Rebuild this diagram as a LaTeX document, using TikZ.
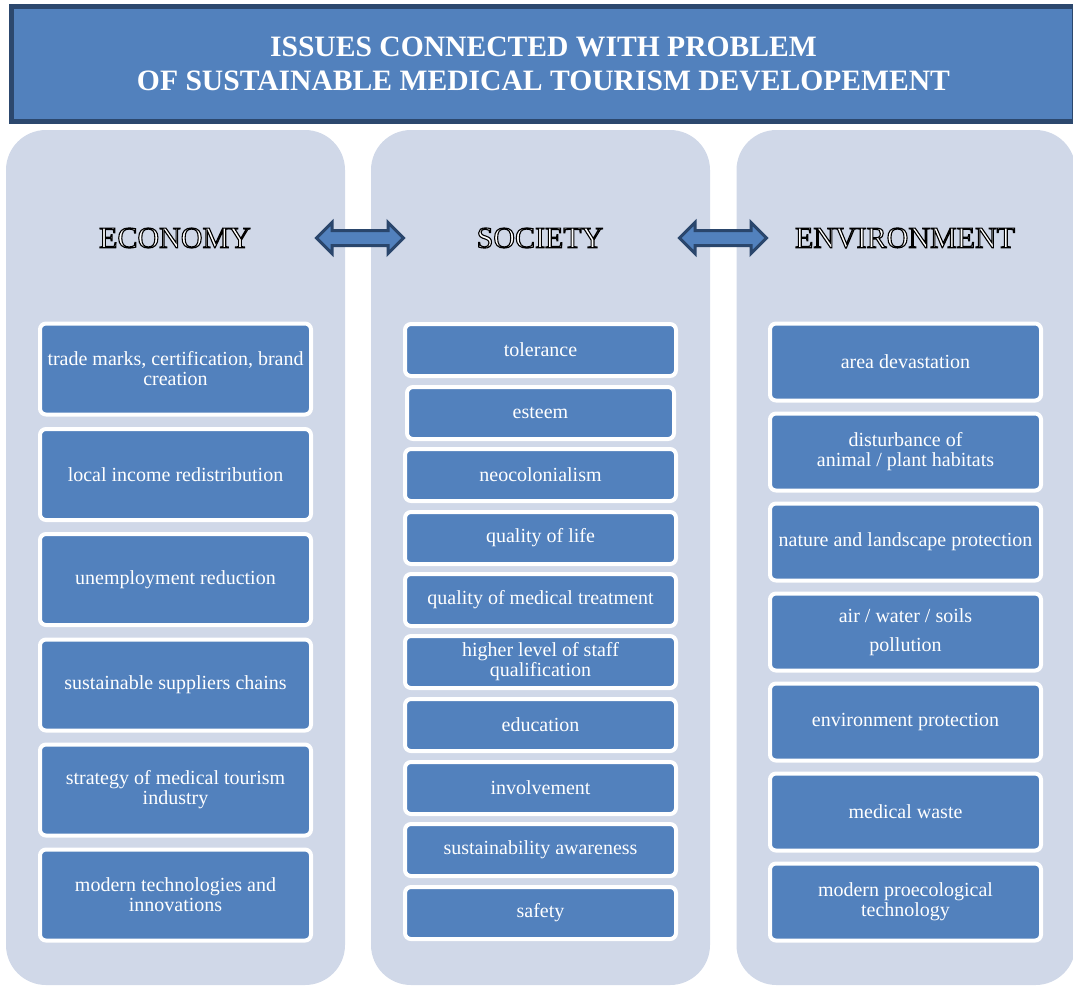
\documentclass[tikz,border=0pt]{standalone}
\usepackage{fontspec}
\setmainfont{Liberation Serif}
\usetikzlibrary{shapes.arrows}
\definecolor{boxblue}{RGB}{82,129,189}
\definecolor{panelgray}{RGB}{208,216,232}
\definecolor{titleedge}{RGB}{44,72,110}
\definecolor{arrowdark}{RGB}{42,70,108}
% outlined (engraved) capitals for the three headings
\newcommand{\engr}[1]{\special{pdf:literal direct 2 Tr 1.1 w 0 0 0 RG}#1\special{pdf:literal direct 0 Tr}}

\begin{document}
\begin{tikzpicture}[x=1pt,y=-1pt,
 titlebox/.style={rectangle,fill=boxblue,draw=titleedge,line width=5pt,minimum width=1063pt,minimum height=115pt,inner sep=0pt},
 titletext/.style={text=white,font=\fontsize{29.6}{34}\selectfont\bfseries,align=center},
 panel/.style={rectangle,rounded corners=40pt,fill=panelgray,draw=none,minimum width=339pt,minimum height=855pt,inner sep=0pt},
 head/.style={font=\fontsize{30}{30}\selectfont,text=white},
 item/.style={rectangle,rounded corners=6pt,fill=boxblue,draw=white,line width=4pt,text=white,font=\fontsize{20}{20}\selectfont,align=center,minimum width=271pt,inner sep=2pt},
 econitem/.style={item,minimum height=91pt},
 socitem/.style={item,minimum height=52pt},
 envitem/.style={item,minimum height=77pt},
 link/.style={double arrow,double arrow head extend=8pt,fill=boxblue,draw=arrowdark,line width=3pt,minimum width=28pt,minimum height=87pt,inner sep=6pt}]
\useasboundingbox (0,0) rectangle (1073,986);

\node[titlebox] (title) at (543.25,64.25) {};
\node[titletext] (titletxt) at (543.5,64) {ISSUES CONNECTED WITH PROBLEM\\OF SUSTAINABLE MEDICAL TOURISM DEVELOPEMENT};

\node[panel] (econpanel) at (175.5,557.5) {};
\node[panel] (socpanel) at (540.5,557.5) {};
\node[panel] (envpanel) at (906,557.5) {};

\node[head] (econ) at (175,238) {\engr{ECONOMY}};
\node[head] (soc) at (540,238) {\engr{SOCIETY}};
\node[head] (env) at (905,238) {\engr{ENVIRONMENT}};

\node[link] (econsoc) at (360,238) {};
\node[link] (socenv) at (723,238) {};

% economy
\node[econitem] (e1) at (175.5,369) {trade marks, certification, brand\\creation};
\node[econitem] (e2) at (175.5,474.5) {local income redistribution};
\node[econitem] (e3) at (175.5,579.5) {unemployment reduction};
\node[econitem] (e4) at (175.5,685) {sustainable suppliers chains};
\node[econitem] (e5) at (175.5,790) {strategy of medical tourism\\industry};
\node[econitem] (e6) at (175.5,895) {modern technologies and\\innovations};

% society
\node[socitem] (s1) at (540.5,350) {tolerance};
\node[socitem,minimum width=267pt] (s2) at (540.5,413) {esteem};
\node[socitem] (s3) at (540.5,475) {neocolonialism};
\node[socitem] (s4) at (540.5,538) {quality of life};
\node[socitem] (s5) at (540.5,600) {quality of medical treatment};
\node[socitem] (s6) at (540.5,662) {higher level of staff\\qualification};
\node[socitem] (s7) at (540.5,725) {education};
\node[socitem] (s8) at (540.5,788) {involvement};
\node[socitem] (s9) at (540.5,850) {sustainability awareness};
\node[socitem] (s10) at (540.5,913) {safety};

% environment
\node[envitem] (n1) at (905.5,362) {area devastation};
\node[envitem] (n2) at (905.5,452) {disturbance of\\animal / plant habitats};
\node[envitem] (n3) at (905.5,542) {nature and landscape protection};
\node[envitem] (n4) at (905.5,632) {air / water / soils\\[9pt]pollution};
\node[envitem] (n5) at (905.5,722) {environment protection};
\node[envitem] (n6) at (905.5,812) {medical waste};
\node[envitem] (n7) at (905.5,902) {modern proecological\\technology};

\end{tikzpicture}
\end{document}
